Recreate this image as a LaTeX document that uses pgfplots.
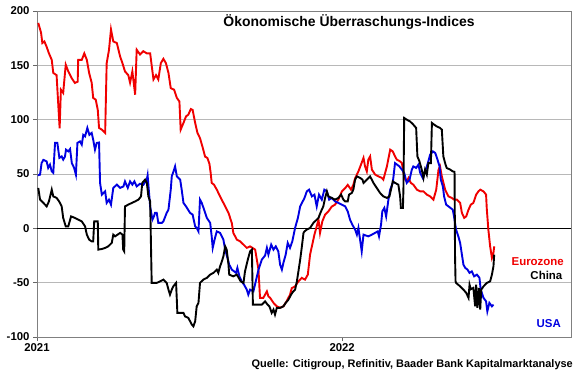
\documentclass[border=0pt]{standalone}
\usepackage{fontspec}
\setmainfont{Liberation Sans}
\usepackage{pgfplots}
\pgfplotsset{compat=1.18}
\definecolor{ezred}{RGB}{240,0,0}
\definecolor{usblue}{RGB}{0,0,225}
\begin{document}
\begin{tikzpicture}
\begin{axis}[
  at={(37bp,38bp)}, anchor=south west,
  scale only axis, width=534bp, height=326bp,
  xmin=0, xmax=21, ymin=-100, ymax=200,
  xtick={0,12}, xticklabels={2021,2022},
  ytick={-100,-50,0,50,100,150,200},
  ymajorgrids, grid style={black!28, line width=0.7bp},
  axis line style={black!50, line width=0.9bp},
  tick style={black!60, line width=0.8bp},
  tick align=outside, tick pos=left, major tick length=4bp,
  /pgf/number format/assume math mode=true,
  ticklabel style={font=\bfseries\fontsize{11.4}{13}\selectfont},
  xticklabel style={yshift=1bp},
  extra y ticks={0}, extra y tick labels={},
  extra y tick style={ymajorgrids=true, grid style={black, line width=1.6bp}, major tick length=0pt},
  clip=false,
]
% Eurozone
\addplot[ezred, line width=1.9bp] table {
0.05 189
0.16 180
0.21 170.5
0.29 172
0.38 167
0.47 161
0.58 155
0.64 143
0.77 141
0.89 92
0.94 127.6
1.03 124.6
1.13 150.6
1.23 144.4
1.37 138
1.49 133.8
1.60 135
1.62 155
1.76 155
1.86 161
1.96 155
2.05 143
2.15 134
2.21 120
2.31 118.4
2.39 109
2.44 92.4
2.55 90.8
2.68 87.8
2.74 152
2.83 164
2.91 183
3.00 172
3.14 170.5
3.27 158
3.36 152
3.46 144.4
3.59 141
3.66 134
3.75 144.4
3.86 123
3.92 164.4
4.05 160
4.18 163
4.32 161
4.45 161
4.58 137
4.68 141
4.77 137
4.87 152
4.97 156
5.07 152
5.17 143
5.26 129
5.39 127.6
5.50 120
5.60 116.8
5.65 90.8
5.76 97
5.86 103
5.95 104.6
6.05 109.8
6.12 109
6.22 97
6.31 87.8
6.41 83
6.52 74
6.61 66
6.70 64.8
6.78 59.5
6.83 51
6.87 41.8
6.96 40.2
7.07 35.6
7.20 29.4
7.33 23.4
7.53 14.2
7.66 5
7.72 -4.2
7.86 -10.4
7.99 -12
8.12 -15
8.25 -18
8.38 -16.6
8.58 -19.6
8.71 -38
8.77 -64
8.90 -64
9.04 -58
9.10 -62.6
9.17 -64
9.30 -68.6
9.43 -71.8
9.56 -73
9.69 -71.8
9.82 -67
9.95 -61
10.02 -55
10.15 -53.4
10.28 -48.8
10.41 -45.6
10.54 -47.2
10.65 -42.6
10.74 -24
10.81 -16.6
10.91 -5.8
11.00 1.8
11.07 8
11.13 -4.2
11.22 6.4
11.33 12.6
11.46 15.6
11.59 20
11.72 21.8
11.85 26.4
11.99 34
12.12 37
12.22 40
12.35 35.6
12.44 40
12.51 46
12.64 52.4
12.84 64.8
12.90 57
12.97 52.4
13.03 63.2
13.10 66.2
13.17 54
13.30 49.4
13.43 47.8
13.56 46.4
13.62 44.8
13.76 57
13.89 72.4
13.99 70.8
14.08 66.2
14.15 63.2
14.28 61.6
14.35 60
14.41 51
14.48 44.8
14.54 43.2
14.61 46.4
14.70 41.8
14.80 40.2
14.94 35.6
15.07 34
15.20 34
15.33 31
15.46 29.4
15.59 26.4
15.70 35.6
15.79 54
15.85 57
15.92 47.8
16.05 35.6
16.18 29.4
16.31 28
16.40 26.4
16.51 26.4
16.64 23.4
16.71 14.2
16.80 9.6
16.88 11
16.97 17.2
17.06 21.8
17.16 23.4
17.27 31
17.36 34
17.43 35.6
17.56 34
17.66 31
17.69 17.2
17.75 -1.2
17.82 -16.6
17.89 -27.2
17.95 -22.6
17.98 -16.6
};
% USA
\addplot[usblue, line width=1.9bp] table {
0.03 48.8
0.12 49.4
0.18 60
0.25 63
0.38 61.6
0.44 55.6
0.51 58.6
0.58 52.4
0.64 51
0.71 78.6
0.80 78.6
0.88 64.8
0.97 66.2
1.03 63.2
1.10 66
1.14 72.4
1.23 70.8
1.30 73
1.37 60
1.46 55.6
1.53 49.4
1.59 78.6
1.69 80
1.76 77
1.82 86
1.89 84.6
1.98 92.4
2.06 86
2.15 87.8
2.21 81.6
2.28 72.4
2.35 78.6
2.44 79
2.48 41.8
2.55 31
2.68 34
2.74 23.4
2.83 26.4
2.91 21.8
3.00 37.2
3.14 40.2
3.27 37.2
3.40 38.6
3.46 43.2
3.57 37.2
3.66 43.2
3.75 40.2
3.83 43.2
3.92 38.6
4.05 41
4.18 40
4.32 45
4.35 48.8
4.45 20
4.54 8
4.60 11
4.64 14.2
4.71 14.2
4.77 5
4.91 5
4.97 6.4
5.10 14.2
5.17 17.2
5.26 35.6
5.30 47.8
5.39 54
5.43 57
5.50 47.8
5.63 44.8
5.69 35.6
5.76 23.4
5.86 20.2
6.02 14.2
6.12 12.6
6.22 1.8
6.28 0.4
6.35 -2.8
6.41 26.4
6.48 23.4
6.57 17.2
6.68 9.6
6.81 5
6.87 -7.4
6.91 -18
7.00 -8.8
7.07 -2.8
7.20 -4.2
7.33 -10.4
7.40 -19.6
7.49 -27.2
7.56 -33.4
7.66 -38
7.83 -41
7.88 -36.4
7.96 -44.2
8.05 -48.8
8.14 -51.8
8.25 -56.4
8.31 -61
8.38 -56.4
8.51 -58
8.62 -47.2
8.71 -38
8.84 -28.8
8.97 -25
9.04 -18
9.10 -24.2
9.21 -15
9.30 -19.6
9.39 -16.6
9.49 -21.2
9.56 -33.4
9.63 -38
9.69 -31.8
9.78 -24.2
9.86 -13.4
9.95 -18
10.04 -12
10.15 0.4
10.26 9.6
10.35 20.2
10.52 28
10.61 34
10.70 35.6
10.81 29.4
10.91 31
11.00 20.2
11.09 31
11.20 26.4
11.30 35.6
11.40 34
11.49 26.4
11.59 28
11.72 24.8
11.85 23.4
11.99 21.8
12.12 20.2
12.22 15.6
12.31 8
12.40 3.4
12.51 -1.2
12.58 -5.8
12.64 0.4
12.77 -21.2
12.84 -5.8
13.03 -7.4
13.17 -5.8
13.40 -2.8
13.45 -7.4
13.53 3.4
13.58 15.6
13.66 18.8
13.73 11
13.82 26.4
13.89 35.6
13.99 41.8
14.08 60
14.25 57
14.35 54
14.44 51
14.54 41.8
14.65 44.8
14.74 54
14.80 57
14.91 55.6
15.00 58.6
15.07 51
15.17 46.4
15.33 57
15.39 61.6
15.46 67.8
15.57 70.8
15.66 69.4
15.75 63.2
15.83 57
15.88 44.8
15.96 38.6
16.01 29.4
16.09 21.8
16.18 20.2
16.35 17.2
16.40 11
16.48 -1.2
16.57 -7.4
16.64 -13.4
16.71 -24.2
16.77 -33.4
16.84 -36.4
16.93 -38
17.01 -41
17.10 -39.6
17.19 -44.2
17.30 -42.6
17.40 -45.6
17.45 -56.4
17.56 -64
17.66 -67.2
17.71 -76.4
17.79 -68.6
17.89 -71.8
17.95 -70.2
};
% China
\addplot[black, line width=1.9bp] table {
0.05 37.2
0.12 26.4
0.25 23.4
0.38 20.2
0.47 24.8
0.58 35.6
0.64 29.4
0.77 28
0.87 24.8
0.97 20.2
1.03 9.6
1.13 1.8
1.23 1.8
1.34 11
1.49 9.6
1.62 8
1.76 6.4
1.89 1.8
1.96 -5.8
2.05 -10.4
2.15 -12
2.21 -12
2.25 6.4
2.39 6.4
2.41 -19.6
2.55 -19
2.68 -18
2.80 -16.6
2.94 -13.4
3.00 -5.8
3.07 -7.4
3.17 -5.8
3.27 -4.2
3.36 -5.8
3.39 -19.6
3.43 -21.2
3.46 20.2
3.59 21.8
3.73 23.4
3.86 24.8
3.99 26.4
4.09 29.4
4.14 41.8
4.25 44.8
4.32 41.8
4.38 29.4
4.45 24.8
4.51 -50.2
4.71 -50.2
4.84 -48.8
4.97 -47.2
5.10 -50.2
5.17 -56.4
5.23 -61
5.30 -56.4
5.36 -53.4
5.47 -50.2
5.52 -77.8
5.63 -77.8
5.76 -77.8
5.82 -81
5.95 -82.4
6.09 -88.6
6.15 -90.2
6.22 -85.6
6.28 -71.8
6.35 -68.6
6.41 -50.2
6.54 -47.2
6.68 -45.6
6.81 -42.6
6.94 -41
7.07 -38
7.13 -41
7.20 -35
7.27 -30.4
7.33 -25.8
7.40 -16.6
7.46 -19.6
7.53 -33.4
7.56 -42.6
7.72 -44.2
7.86 -42.6
8.01 -48.8
8.12 -50.2
8.18 -39.6
8.29 -28.8
8.38 -21.2
8.45 -19.6
8.49 -70.2
8.64 -70.2
8.84 -70.2
8.97 -67.2
9.06 -70
9.14 -71.8
9.23 -77.8
9.30 -74.8
9.36 -79.4
9.43 -73.2
9.56 -73.2
9.69 -71.8
9.78 -68.6
9.89 -65.6
9.99 -61
10.08 -58
10.15 -56.4
10.22 -48.8
10.28 -39.6
10.35 -28.8
10.41 -18
10.48 -4.2
10.52 -2.8
10.61 -1.2
10.74 0.4
10.87 5
11.07 9.6
11.17 15.6
11.26 20.2
11.33 28
11.40 34
11.46 29.4
11.59 28
11.72 26.4
11.85 28
11.96 31
12.05 26.4
12.12 24.8
12.22 24.8
12.27 31
12.38 32.6
12.44 35.6
12.51 44.8
12.58 47.8
12.71 46.4
12.80 44.8
12.84 41.8
12.97 44.8
13.10 47.8
13.23 41.8
13.36 37.2
13.49 32.6
13.62 29.4
13.76 28
13.86 29.4
13.95 38.6
13.99 43.2
14.08 41.8
14.21 40.2
14.28 29.4
14.31 18.8
14.39 18.8
14.41 35.6
14.44 101.6
14.54 100
14.67 98.4
14.80 95.4
14.91 92.4
14.96 66.2
15.04 61.6
15.13 54
15.20 46.4
15.26 54
15.33 49.4
15.39 60
15.49 60
15.53 97
15.62 95.4
15.72 93.8
15.85 92.4
15.92 90.8
15.98 66.2
16.05 60
16.11 55.6
16.25 54
16.35 52.4
16.42 52
16.44 -25.8
16.46 -48.8
16.48 -50.2
16.64 -53.4
16.77 -56.4
16.88 -59.4
16.97 -64
17.01 -51.8
17.06 -56
17.16 -54.8
17.23 -71.8
17.27 -51.8
17.32 -73.2
17.38 -54.8
17.43 -74.8
17.47 -56.4
17.56 -53.4
17.69 -50.2
17.82 -48.8
17.89 -42.6
17.95 -35
17.98 -24.2
};
\end{axis}
\node[anchor=base, font=\bfseries\fontsize{14}{16}\selectfont] at (349bp,348.5bp) {Ökonomische Überraschungs-Indices};
\node[anchor=base east, inner sep=0pt, font=\bfseries\fontsize{11}{13}\selectfont] at (573bp,7.7bp) {Quelle: Citigroup, Refinitiv, Baader Bank Kapitalmarktanalyse};
\node[anchor=base east, inner sep=0pt, text=ezred, font=\bfseries\fontsize{11.5}{13}\selectfont] at (564bp,109bp) {Eurozone};
\node[anchor=base east, inner sep=0pt, text=black, font=\bfseries\fontsize{11.5}{13}\selectfont] at (562.5bp,95bp) {China};
\node[anchor=base east, inner sep=0pt, text=usblue, font=\bfseries\fontsize{11.5}{13}\selectfont] at (561bp,47.3bp) {USA};
\pgfresetboundingbox
\path[use as bounding box] (0,0) rectangle (580bp,375bp);
\end{tikzpicture}
\end{document}
